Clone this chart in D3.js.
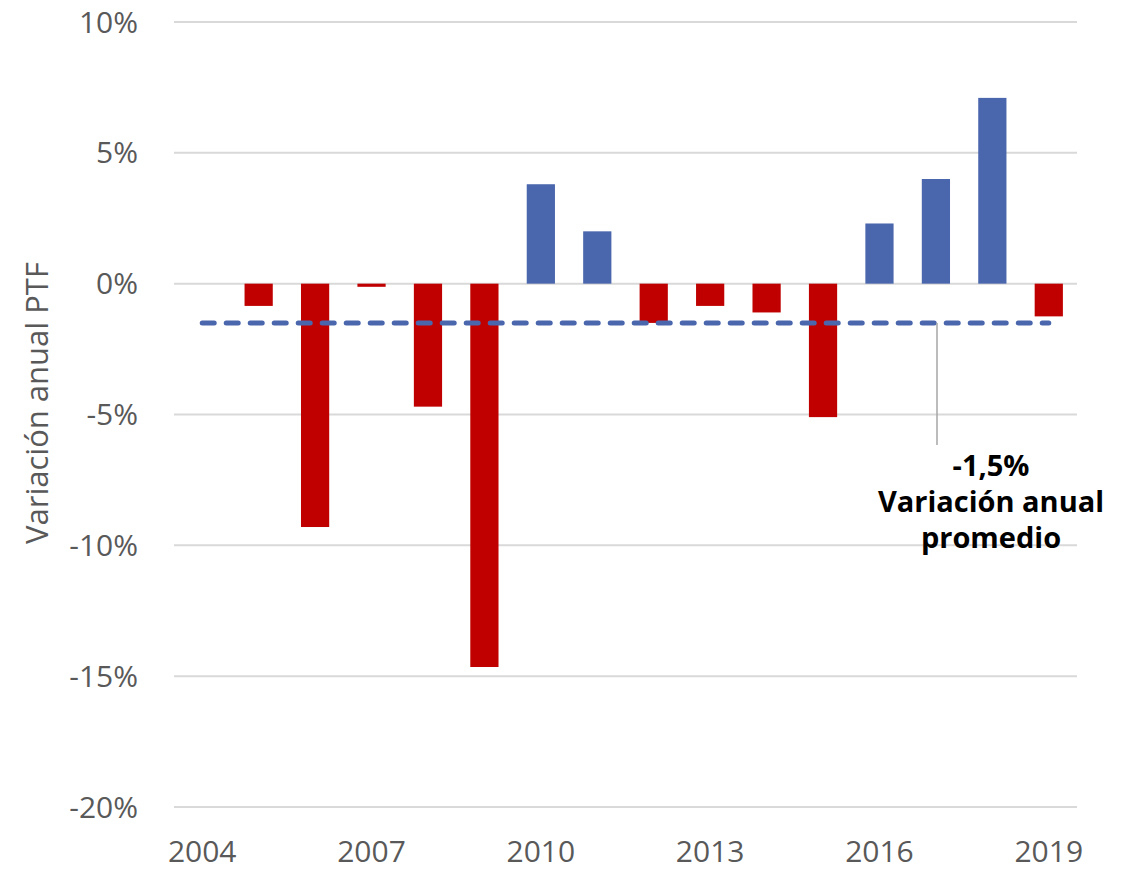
<!DOCTYPE html>
<html>
<head>
<meta charset="utf-8">
<script src="https://cdn.jsdelivr.net/npm/d3@7"></script>
<style>
  body { margin: 0; background: #fff; }
  svg text { font-family: "Open Sans", "Noto Sans", sans-serif; }
</style>
</head>
<body>
<svg id="chart" width="1135" height="872"></svg>
<script>
// data
const years = [2004, 2005, 2006, 2007, 2008, 2009, 2010, 2011, 2012, 2013, 2014, 2015, 2016, 2017, 2018, 2019];
const variation = [0, -0.85, -9.3, -0.12, -4.7, -14.65, 3.8, 2.0, -1.5, -0.85, -1.1, -5.1, 2.3, 4.0, 7.1, -1.25];
const average = -1.5;
const yTicks = [-20, -15, -10, -5, 0, 5, 10];
const xLabels = [2004, 2007, 2010, 2013, 2016, 2019];

const svg = d3.select("#chart");
const margin = { left: 174, right: 1077, top: 22, bottom: 807 };

const x = d3.scaleBand()
    .domain(years)
    .range([margin.left, margin.right])
    .paddingInner(0.5)
    .paddingOuter(0.25);

const y = d3.scaleLinear()
    .domain([-20, 10])
    .range([margin.bottom, margin.top]);

const center = d => x(d) + x.bandwidth() / 2;

// gridlines
svg.append("g")
    .selectAll("line")
    .data(yTicks)
    .enter()
    .append("line")
    .attr("x1", margin.left)
    .attr("x2", margin.right)
    .attr("y1", d => y(d))
    .attr("y2", d => y(d))
    .attr("stroke", "#d9d9d9")
    .attr("stroke-width", 2);

// y tick labels
svg.append("g")
    .selectAll("text")
    .data(yTicks)
    .enter()
    .append("text")
    .attr("x", 138)
    .attr("y", d => y(d))
    .attr("dy", "0.35em")
    .attr("text-anchor", "end")
    .attr("fill", "#595959")
    .attr("font-size", 30)
    .text(d => d + "%");

// x labels
svg.append("g")
    .selectAll("text")
    .data(xLabels)
    .enter()
    .append("text")
    .attr("x", d => center(d))
    .attr("y", 862)
    .attr("text-anchor", "middle")
    .attr("fill", "#595959")
    .attr("font-size", 30)
    .text(d => d);

// y title
svg.append("text")
    .attr("transform", "translate(48,403) rotate(-90)")
    .attr("text-anchor", "middle")
    .attr("fill", "#595959")
    .attr("font-size", 31)
    .text("Variación anual PTF");

// bars
svg.append("g")
    .selectAll("rect")
    .data(years.map((yr, i) => ({ year: yr, value: variation[i] })))
    .enter()
    .append("rect")
    .attr("x", d => x(d.year))
    .attr("width", x.bandwidth())
    .attr("y", d => y(Math.max(0, d.value)))
    .attr("height", d => Math.abs(y(d.value) - y(0)))
    .attr("fill", d => d.value < 0 ? "#c00000" : "#4a66ac");

// average line
svg.append("line")
    .attr("x1", center(years[0]))
    .attr("x2", center(years[years.length - 1]))
    .attr("y1", y(average))
    .attr("y2", y(average))
    .attr("stroke", "#4a66ac")
    .attr("stroke-width", 5)
    .attr("stroke-linecap", "round")
    .attr("stroke-dasharray", "12,12");

// annotation
svg.append("line")
    .attr("x1", 937)
    .attr("x2", 937)
    .attr("y1", y(average))
    .attr("y2", 445)
    .attr("stroke", "#a6a6a6")
    .attr("stroke-width", 1.5);

const note = svg.append("text")
    .attr("text-anchor", "middle")
    .attr("font-size", 29)
    .attr("font-weight", "bold")
    .attr("fill", "#000");
["-1,5%", "Variación anual", "promedio"].forEach((t, i) => {
  note.append("tspan")
      .attr("x", 991)
      .attr("y", 476 + i * 36)
      .text(t);
});
</script>
</body>
</html>
